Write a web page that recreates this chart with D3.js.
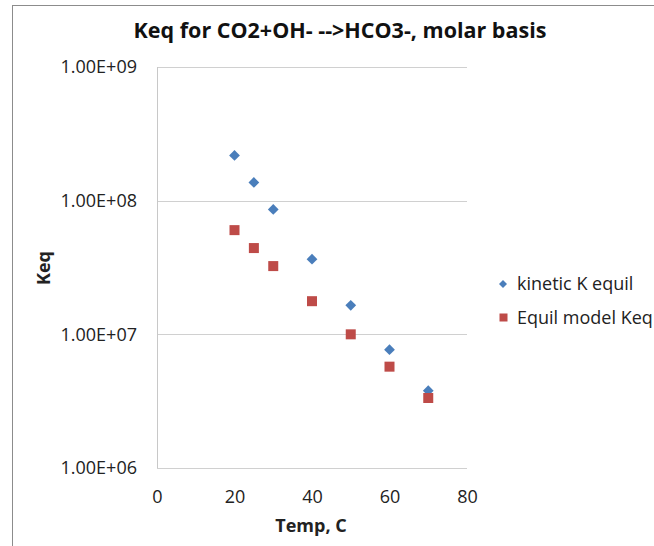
<!DOCTYPE html>
<html>
<head>
<meta charset="utf-8">
<script src="https://cdn.jsdelivr.net/npm/d3@7"></script>
<style>
  body { margin: 0; background: #fff; }
  svg { display: block; font-family: "Open Sans", sans-serif; }
</style>
</head>
<body>
<svg id="chart" width="654" height="546"></svg>
<script>
// Temperatures (C)
const temps = [20, 25, 30, 40, 50, 60, 70];
// kinetic K equil (blue diamonds)
const kineticK = [2.18e8, 1.37e8, 8.6e7, 3.65e7, 1.65e7, 7.67e6, 3.79e6];
// Equil model Keq (red squares)
const equilKeq = [6.02e7, 4.42e7, 3.24e7, 1.77e7, 1.0e7, 5.73e6, 3.34e6];

const xTicks = [0, 20, 40, 60, 80];
const yTicks = [1e6, 1e7, 1e8, 1e9];
const seriesNames = ["kinetic K equil", "Equil model Keq"];

const svg = d3.select("#chart");

// outer chart frame (runs off right and bottom edges)
svg.append("rect")
    .attr("x", 12.5).attr("y", 5.5)
    .attr("width", 700).attr("height", 600)
    .attr("fill", "none")
    .attr("stroke", "#8c8c8c");

const margin = { top: 67, left: 157 };
const width = 310, height = 401;

const g = svg.append("g")
    .attr("transform", `translate(${margin.left}, ${margin.top})`);

const x = d3.scaleLinear().domain([0, 80]).range([0, width]);
const y = d3.scaleLog().domain([1e6, 1e9]).range([height, 0]);

// gridlines
g.selectAll(".grid")
    .data(yTicks)
    .join("line")
    .attr("x1", 0).attr("x2", width)
    .attr("y1", d => Math.round(y(d)) + 0.5)
    .attr("y2", d => Math.round(y(d)) + 0.5)
    .attr("stroke", "#d0d0d0");

// y axis line
g.append("line")
    .attr("x1", 0.5).attr("x2", 0.5)
    .attr("y1", 0).attr("y2", height)
    .attr("stroke", "#c8c8c8");

// axes (labels only)
const yAxis = g.append("g")
    .call(d3.axisLeft(y).tickValues(yTicks).tickSize(0).tickPadding(20)
        .tickFormat(d => "1.00E+" + String(Math.round(Math.log10(d))).padStart(2, "0")));
const xAxis = g.append("g")
    .attr("transform", `translate(0, ${height})`)
    .call(d3.axisBottom(x).tickValues(xTicks).tickSize(0).tickPadding(22));

[yAxis, xAxis].forEach(a => {
    a.select(".domain").remove();
    a.selectAll("text")
        .attr("font-family", "'Open Sans', sans-serif")
        .attr("font-size", 18)
        .attr("fill", "#222");
});

// series
const diamond = d3.symbol().type(d3.symbolSquare).size(58);
g.selectAll(".kin")
    .data(temps.map((t, i) => [t, kineticK[i]]))
    .join("path")
    .attr("d", diamond)
    .attr("transform", d => `translate(${x(d[0])}, ${y(d[1])}) rotate(45)`)
    .attr("fill", "#4a7ebb");

g.selectAll(".eq")
    .data(temps.map((t, i) => [t, equilKeq[i]]))
    .join("rect")
    .attr("x", d => x(d[0]) - 5)
    .attr("y", d => y(d[1]) - 5)
    .attr("width", 10).attr("height", 10)
    .attr("fill", "#be4b48");

// title
svg.append("text")
    .attr("x", 340).attr("y", 38)
    .attr("text-anchor", "middle")
    .attr("font-size", 21.5)
    .attr("font-weight", "bold")
    .attr("fill", "#111")
    .text("Keq for CO2+OH- -->HCO3-, molar basis");

// axis titles
svg.append("text")
    .attr("x", 311).attr("y", 532)
    .attr("text-anchor", "middle")
    .attr("font-size", 18)
    .attr("font-weight", "bold")
    .attr("fill", "#222")
    .text("Temp, C");

svg.append("text")
    .attr("transform", "translate(50, 268) rotate(-90)")
    .attr("text-anchor", "middle")
    .attr("font-size", 18)
    .attr("font-weight", "bold")
    .attr("fill", "#222")
    .text("Keq");

// legend
const legend = svg.append("g").attr("transform", "translate(503, 284)");
legend.append("path")
    .attr("d", d3.symbol().type(d3.symbolSquare).size(32))
    .attr("transform", "rotate(45)")
    .attr("fill", "#4a7ebb");
legend.append("rect")
    .attr("x", -3.5).attr("y", 29.5)
    .attr("width", 8).attr("height", 8)
    .attr("fill", "#be4b48");
legend.selectAll("text")
    .data(seriesNames)
    .join("text")
    .attr("x", 14)
    .attr("y", (d, i) => i * 33.5 + 6)
    .attr("font-size", 18)
    .attr("fill", "#222")
    .text(d => d);
</script>
</body>
</html>
